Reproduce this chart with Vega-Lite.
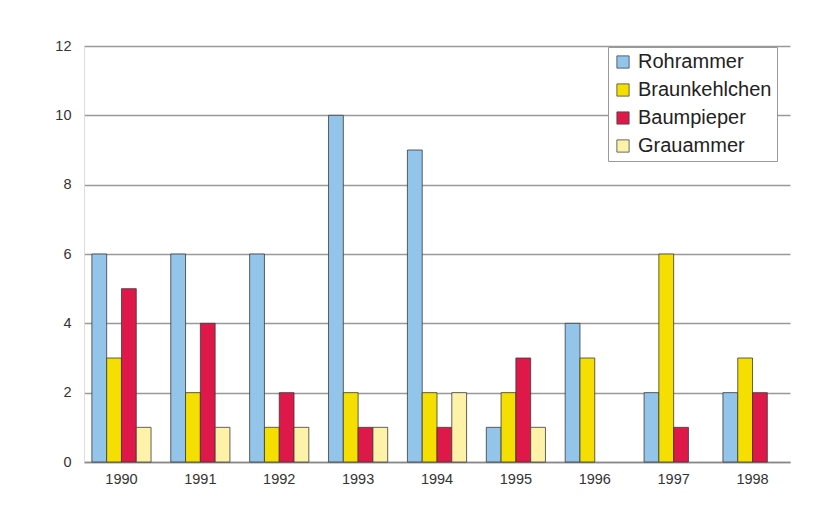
{
  "$schema": "https://vega.github.io/schema/vega-lite/v6.json",
  "width": 706,
  "height": 416,
  "autosize": {"type": "none"},
  "padding": {"left": 84, "top": 46, "right": 27, "bottom": 48},
  "background": "white",
  "config": {
    "font": "Liberation Sans",
    "view": {"stroke": null}
  },
  "data": {
    "values": [
      {"Jahr": "1990", "Art": "Rohrammer", "Anzahl": 6},
      {"Jahr": "1990", "Art": "Braunkehlchen", "Anzahl": 3},
      {"Jahr": "1990", "Art": "Baumpieper", "Anzahl": 5},
      {"Jahr": "1990", "Art": "Grauammer", "Anzahl": 1},
      {"Jahr": "1991", "Art": "Rohrammer", "Anzahl": 6},
      {"Jahr": "1991", "Art": "Braunkehlchen", "Anzahl": 2},
      {"Jahr": "1991", "Art": "Baumpieper", "Anzahl": 4},
      {"Jahr": "1991", "Art": "Grauammer", "Anzahl": 1},
      {"Jahr": "1992", "Art": "Rohrammer", "Anzahl": 6},
      {"Jahr": "1992", "Art": "Braunkehlchen", "Anzahl": 1},
      {"Jahr": "1992", "Art": "Baumpieper", "Anzahl": 2},
      {"Jahr": "1992", "Art": "Grauammer", "Anzahl": 1},
      {"Jahr": "1993", "Art": "Rohrammer", "Anzahl": 10},
      {"Jahr": "1993", "Art": "Braunkehlchen", "Anzahl": 2},
      {"Jahr": "1993", "Art": "Baumpieper", "Anzahl": 1},
      {"Jahr": "1993", "Art": "Grauammer", "Anzahl": 1},
      {"Jahr": "1994", "Art": "Rohrammer", "Anzahl": 9},
      {"Jahr": "1994", "Art": "Braunkehlchen", "Anzahl": 2},
      {"Jahr": "1994", "Art": "Baumpieper", "Anzahl": 1},
      {"Jahr": "1994", "Art": "Grauammer", "Anzahl": 2},
      {"Jahr": "1995", "Art": "Rohrammer", "Anzahl": 1},
      {"Jahr": "1995", "Art": "Braunkehlchen", "Anzahl": 2},
      {"Jahr": "1995", "Art": "Baumpieper", "Anzahl": 3},
      {"Jahr": "1995", "Art": "Grauammer", "Anzahl": 1},
      {"Jahr": "1996", "Art": "Rohrammer", "Anzahl": 4},
      {"Jahr": "1996", "Art": "Braunkehlchen", "Anzahl": 3},
      {"Jahr": "1996", "Art": "Baumpieper", "Anzahl": 0},
      {"Jahr": "1996", "Art": "Grauammer", "Anzahl": 0},
      {"Jahr": "1997", "Art": "Rohrammer", "Anzahl": 2},
      {"Jahr": "1997", "Art": "Braunkehlchen", "Anzahl": 6},
      {"Jahr": "1997", "Art": "Baumpieper", "Anzahl": 1},
      {"Jahr": "1997", "Art": "Grauammer", "Anzahl": 0},
      {"Jahr": "1998", "Art": "Rohrammer", "Anzahl": 2},
      {"Jahr": "1998", "Art": "Braunkehlchen", "Anzahl": 3},
      {"Jahr": "1998", "Art": "Baumpieper", "Anzahl": 2},
      {"Jahr": "1998", "Art": "Grauammer", "Anzahl": 0}
    ]
  },
  "transform": [{"filter": "datum.Anzahl > 0"}],
  "mark": {"type": "bar", "stroke": "#3a3a3a", "strokeWidth": 0.8},
  "encoding": {
    "x": {
      "field": "Jahr", "type": "nominal", "title": null,
      "scale": {"paddingInner": 0.25, "paddingOuter": 0.1},
      "axis": {"labelAngle": 0, "labelFontSize": 14.5, "labelColor": "#333", "ticks": false, "domainColor": "#888", "domainWidth": 1.5, "labelPadding": 10}
    },
    "xOffset": {"field": "Art", "type": "nominal", "sort": ["Rohrammer", "Braunkehlchen", "Baumpieper", "Grauammer"], "scale": {"domain": ["Rohrammer", "Braunkehlchen", "Baumpieper", "Grauammer"]}},
    "y": {
      "field": "Anzahl", "type": "quantitative", "title": null,
      "scale": {"domain": [0, 12], "nice": false},
      "axis": {"values": [0, 2, 4, 6, 8, 10, 12], "labelFontSize": 14.5, "labelColor": "#333", "ticks": false, "domain": true, "domainColor": "#ddd", "gridColor": "#999", "gridWidth": 1.5, "labelPadding": 13}
    },
    "color": {
      "field": "Art", "type": "nominal",
      "sort": ["Rohrammer", "Braunkehlchen", "Baumpieper", "Grauammer"],
      "scale": {"domain": ["Rohrammer", "Braunkehlchen", "Baumpieper", "Grauammer"], "range": ["#93c4ea", "#f5df00", "#de1848", "#fdf2a8"]},
      "legend": {
        "title": null, "orient": "none", "legendX": 524, "legendY": 1,
        "symbolType": "square", "symbolSize": 150, "symbolStrokeColor": "#444", "symbolStrokeWidth": 0.8,
        "labelFontSize": 20, "labelColor": "#222", "rowPadding": 8, "labelOffset": 5, "labelLimit": 300,
        "fillColor": "white", "strokeColor": "#999", "padding": 5
      }
    }
  }
}
